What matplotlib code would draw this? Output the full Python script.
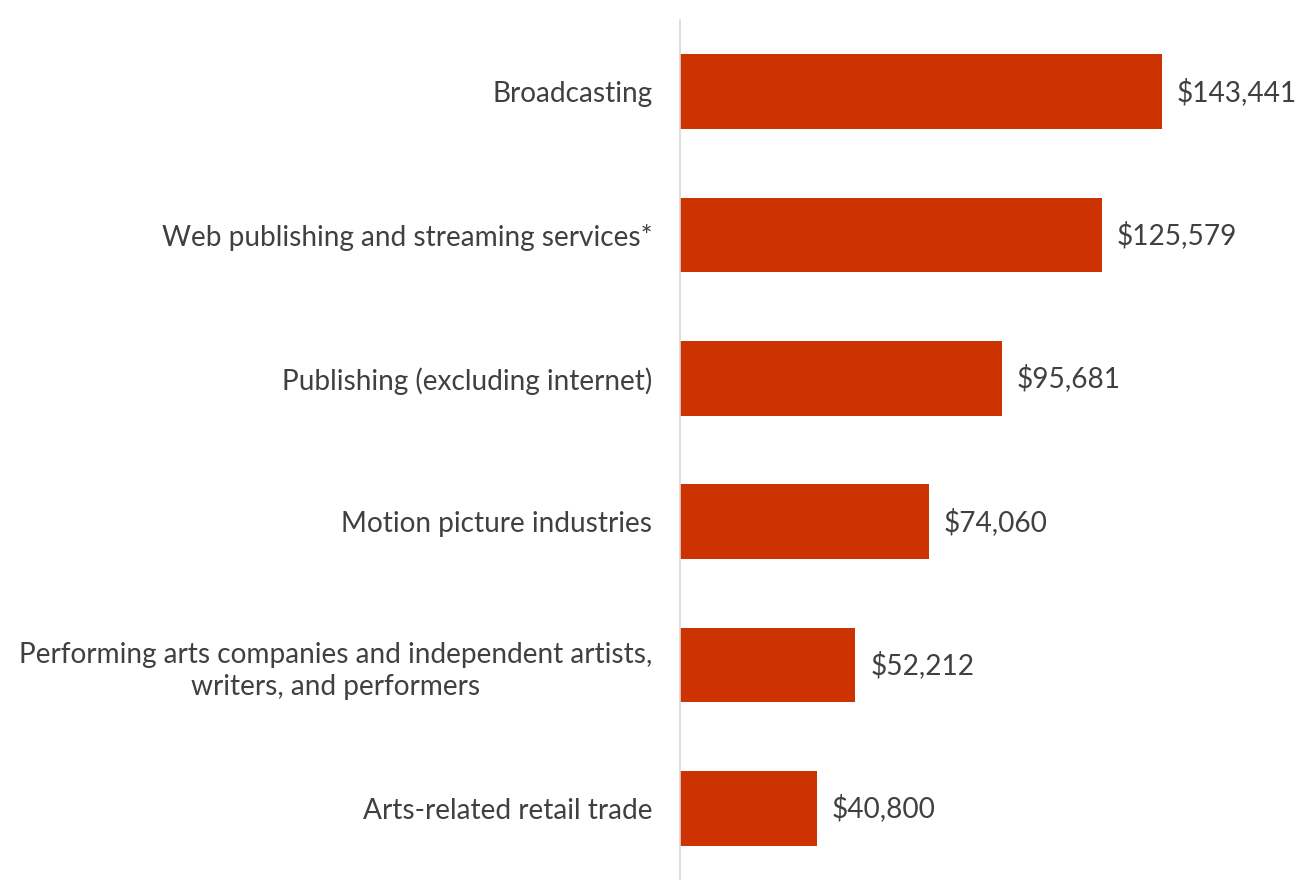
import matplotlib
matplotlib.use('Agg')
import matplotlib.pyplot as plt

categories = [
    'Broadcasting',
    'Web publishing and streaming services*',
    'Publishing (excluding internet)',
    'Motion picture industries',
    'Performing arts companies and independent artists,\nwriters, and performers',
    'Arts-related retail trade',
]
values = [143441, 125579, 95681, 74060, 52212, 40800]

bar_color = '#CC3300'
text_color = '#404040'

plt.rcParams['font.family'] = ['Lato', 'DejaVu Sans']

fig = plt.figure(figsize=(13.04, 8.8), dpi=100)
ax = fig.add_axes([680 / 1304, 0, 624 / 1304, 860 / 880])

positions = list(range(len(categories)))
ax.barh(positions, values, height=0.52, color=bar_color)
ax.set_ylim(len(categories) - 0.5, -0.5)
ax.set_xlim(0, 185700)

ax.set_yticks(positions)
ax.set_yticklabels(categories, fontsize=20.2, color=text_color,
                   multialignment='center', linespacing=1.3)
ax.tick_params(axis='y', length=0, pad=20)
ax.set_xticks([])

# value labels just past the end of each bar
for pos, val in zip(positions, values):
    ax.annotate('${:,}'.format(val), xy=(val, pos), xytext=(15, 0),
                textcoords='offset pixels',
                va='center', ha='left', fontsize=20.2, color=text_color)

for side in ['top', 'right', 'bottom']:
    ax.spines[side].set_visible(False)
ax.spines['left'].set_color('#D9D9D9')
ax.spines['left'].set_linewidth(1.2)

fig.savefig('out.png', dpi=100)
